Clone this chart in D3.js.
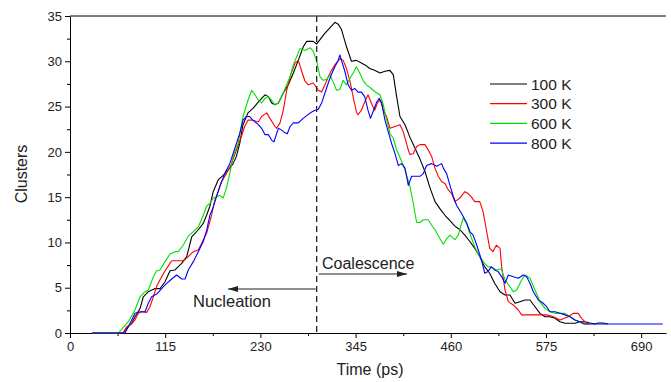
<!DOCTYPE html>
<html>
<head>
<meta charset="utf-8">
<script src="https://cdnjs.cloudflare.com/ajax/libs/d3/7.8.5/d3.min.js"></script>
<style>
  body { margin: 0; background: #fff; }
  text { font-family: "Liberation Sans", Arial, sans-serif; }
</style>
</head>
<body>
<div id="chart"></div>
<script>
// data: [time (ps), clusters]
const k100 = [[27,0],[64,0],[70.5,0.7],[74.5,1.07],[78.5,1.8],[84.6,2.7],[88.6,4.0],[94.6,4.56],[102.7,4.9],[108.7,4.9],[114.8,5.66],[120.8,6.88],[126.8,6.96],[134.9,7.69],[141,8.43],[147,10.6],[155,11.4],[161,12.1],[165,13.0],[169,14.0],[173,15.6],[179,16.9],[185,17.4],[193,18.2],[197,18.7],[201,19.5],[205,20.9],[209,23.0],[215,24.3],[221,24.8],[229.5,25.7],[235.6,26.3],[239.6,26.1],[243.6,25.4],[247.6,25.2],[251.7,25.4],[257.7,26.5],[263.7,27.4],[269.8,28.7],[275.8,30.1],[281.8,31.6],[285.9,32.2],[293.9,32.2],[297.9,31.9],[302,32.4],[308,33.1],[314,33.7],[320,34.3],[324,34.1],[328,33.5],[334,31.6],[340,30.0],[346,30.1],[352,29.8],[358,29.5],[362,29.2],[368,29.0],[374.5,28.7],[380.5,28.9],[386.5,29.0],[390.6,28.5],[394.6,26.1],[398.6,23.9],[404.7,23.0],[410.7,21.6],[416.8,20.4],[422.8,19.2],[428.9,17.8],[435,16.0],[441,14.5],[447,13.7],[453,13.0],[459,12.4],[465,11.8],[471,11.4],[477,10.8],[483,10.1],[489,9.35],[495,8.43],[501,7.3],[507,6.6],[513,5.5],[519.5,4.56],[525.5,4.2],[531.5,4.2],[537.6,3.28],[543.6,3.46],[549.6,3.64],[555.7,3.64],[561.7,2.9],[567.8,2.17],[573.8,1.8],[579.8,1.8],[585.9,1.62],[591.9,1.25],[598,1.07],[604,1.07],[610,1.07],[616,1.25],[622,1.25],[628,1.1],[634,1.0],[638,1.1],[644,1.1],[650,1.0]];

const k300 = [[27,0],[64,0],[68.5,0.7],[74.5,1.0],[78.5,1.44],[82.5,2.17],[86.6,2.35],[92.6,2.28],[96.6,2.9],[100.7,4.0],[104.7,5.15],[110.7,6.2],[116.8,7.14],[122.8,7.98],[128.8,7.98],[136.9,7.98],[142.9,8.43],[149,8.98],[155,9.16],[161,10.27],[165,11.0],[171,13.0],[175,14.7],[179,15.6],[183,16.7],[189,17.6],[195,18.7],[201,20.2],[207,21.7],[211,22.8],[215,23.5],[221,23.5],[227.5,23.3],[231.5,23.9],[237.6,24.3],[241.6,23.7],[247.6,22.8],[249.6,22.6],[253.7,23.2],[257.7,24.6],[261.8,26.8],[265.8,28.3],[271.8,29.8],[275.8,30.1],[279.9,28.9],[283.9,27.8],[287.9,27.4],[293.9,27.6],[299.9,26.8],[304,26.6],[308,27.4],[312,28.3],[316,29.0],[320,29.6],[326,30.3],[330,30.1],[334,29.2],[338,27.9],[342,26.1],[346,24.4],[348,24.1],[352,24.6],[356,25.5],[360,26.3],[364,25.4],[368,24.6],[372,25.5],[375,25.7],[378.5,24.6],[382.5,23.9],[386.6,22.6],[392.6,22.8],[398.6,23.0],[402.7,22.2],[408.7,20.2],[410.7,19.7],[414.7,19.8],[418.8,20.6],[422.8,20.8],[428.9,20.8],[432.8,20.2],[436.9,19.5],[440.9,18.2],[444.9,17.3],[449,16.7],[453,16.5],[457,15.8],[461,15.4],[465,14.5],[471,14.9],[477,15.6],[481,15.4],[485,15.0],[489,14.5],[495,14.5],[499,13.4],[503,11.4],[507,9.35],[511,9.0],[515,9.7],[519.5,9.35],[521.5,7.3],[525.5,4.75],[529.5,3.46],[535.5,3.1],[541.5,2.54],[545.6,2.0],[551.7,2.0],[563.8,2.0],[575.8,2.0],[583.9,1.8],[591.9,1.44],[602,1.8],[608,2.17],[614,2.17],[618,1.62],[622,1.25],[626,1.0]];

const k600 = [[27,0],[58.4,0],[70.5,1.25],[78.5,2.54],[84.6,4.0],[90.6,4.56],[94.6,4.75],[100.7,6.2],[104.7,6.88],[108.7,6.96],[114.8,7.88],[120.8,8.72],[126.8,8.98],[130.8,8.98],[136.9,9.72],[142.9,10.7],[149,11.2],[155,11.7],[161,13.0],[165,14.0],[169,14.3],[173,14.9],[177,15.05],[181,15.2],[185,14.9],[189,16.0],[193,17.6],[197,19.5],[203,20.9],[209,23.9],[215,25.7],[219.5,26.8],[223.5,26.3],[227.5,25.7],[231.5,25.4],[235.6,25.9],[239.6,26.1],[243.6,25.7],[247.6,25.2],[251.7,25.4],[255.7,26.1],[261.8,27.4],[265.8,28.3],[269.8,29.6],[273.8,30.5],[277.8,31.4],[283.9,31.2],[290,31.5],[293.9,31.1],[298,30.0],[302,28.3],[306,27.9],[310,28.0],[314,28.5],[318,27.7],[322,26.8],[326,26.9],[330,27.9],[334,27.4],[338,28.1],[342,28.7],[346,29.4],[350,28.7],[354,27.9],[358,27.4],[364,27.0],[370.5,26.5],[374.5,26.3],[378.5,25.2],[382.5,23.5],[386.6,22.0],[390.6,21.5],[394.6,20.2],[398.6,19.4],[402.7,18.5],[406.7,17.4],[410.7,16.2],[414.7,14.3],[418.8,12.2],[422.8,12.2],[426.8,12.5],[432.8,12.5],[436.9,11.9],[440.9,11.4],[447,10.4],[451,9.8],[455,10.4],[459,10.8],[465,10.3],[469,10.8],[475,12.7],[479,12.1],[483,11.0],[489,9.5],[495,8.4],[501,7.7],[505,7.3],[509,7.3],[515,6.96],[521,7.1],[525.5,5.85],[531.5,5.1],[535.5,4.56],[539.6,4.75],[545.6,5.85],[549.6,6.4],[555.7,6.04],[561.7,4.75],[567.8,3.46],[573.8,2.72],[579.8,2.35],[585.9,2.17],[592,2.17],[598,2.17],[604,1.8],[610,1.44],[616,1.25],[620,1.0],[628,1.0]];

const k800 = [[27,0],[66.4,0],[70.5,0.7],[74.5,1.44],[78.5,2.17],[84.6,2.35],[90.6,2.35],[94.6,3.28],[98.6,4.0],[104.7,4.3],[110.7,4.9],[116.8,5.48],[122.8,5.96],[128.8,6.4],[134.9,5.96],[139,5.96],[142.9,6.96],[149,7.88],[155,8.98],[161,10.1],[165,11.3],[169,13.0],[173,13.9],[177,15.05],[181,16.2],[187,17.6],[193,18.7],[197,19.8],[201,20.9],[205,22.0],[209,23.5],[213,23.9],[217,23.9],[221,23.5],[227.5,23.0],[231.5,22.6],[235.6,21.9],[239.6,21.9],[243.6,21.3],[246.4,21.1],[249.6,22.0],[251.7,22.6],[255.7,22.4],[259.7,22.1],[262.5,22.0],[265.8,22.8],[269.8,23.2],[275.8,23.2],[281.8,23.7],[285.9,24.0],[292,24.4],[296,24.6],[300,24.7],[304,25.4],[308,26.5],[312,27.6],[316,28.6],[320,29.4],[324,30.1],[326,30.7],[328,30.1],[332,28.9],[336,27.4],[340,26.8],[344,27.0],[348,26.6],[352,26.6],[356,26.1],[360,24.6],[363,23.7],[366,24.4],[370.5,25.5],[373.6,25.9],[376.5,25.4],[380.5,23.5],[384.5,22.2],[388.6,20.9],[392.6,19.8],[396.6,18.5],[400.7,18.7],[404.7,18.2],[408.7,16.3],[412.7,17.3],[416.8,17.3],[422.8,17.3],[426.8,17.6],[430.8,18.5],[436.9,18.7],[443,18.4],[449,18.7],[451,18.2],[455,17.6],[459,16.3],[463,15.1],[467,14.1],[473,13.2],[479,12.2],[483,11.2],[487,10.8],[491,9.8],[497,8.1],[501,6.6],[505,6.8],[509,7.3],[513,6.96],[517,6.8],[521.5,6.2],[525.5,5.5],[529.5,6.4],[535.5,6.2],[541.5,6.04],[547.6,6.4],[551.7,6.2],[555.7,5.5],[559.7,4.56],[565.8,3.64],[571.8,3.28],[575.8,2.9],[579.8,2.35],[585.9,2.35],[592,2.17],[598,2.0],[604,1.8],[610,1.44],[616,1.25],[622,1.0],[716,1.0]];

const seriesNames = ["100 K", "300 K", "600 K", "800 K"];
const seriesColors = ["#000000", "#ff0000", "#00e000", "#0000ff"];
const seriesData = [k100, k300, k600, k800];

const xTicks = [0, 115, 230, 345, 460, 575, 690];
const yTicks = [0, 5, 10, 15, 20, 25, 30, 35];
const splitTime = 298; // dashed line between nucleation and coalescence

const W = 671, H = 382;

const svg = d3.select("#chart")
  .append("svg")
    .attr("width", W)
    .attr("height", H);

const x = d3.scaleLinear().domain([0, 720]).range([70, 666]);
const y = d3.scaleLinear().domain([0, 35]).range([333, 16]);

// top frame line
svg.append("line")
  .attr("x1", x(0)).attr("x2", x(720))
  .attr("y1", y(35)).attr("y2", y(35))
  .attr("stroke", "#000").attr("stroke-width", 1);

// minor ticks
svg.append("g")
  .attr("transform", "translate(0," + y(0) + ")")
  .call(d3.axisBottom(x).tickValues(xTicks.map(d => d + 57.5).filter(d => d < 720)).tickSize(3).tickFormat(""))
  .call(g => g.select(".domain").remove());
svg.append("g")
  .attr("transform", "translate(" + x(0) + ",0)")
  .call(d3.axisLeft(y).tickValues(yTicks.slice(0, -1).map(d => d + 2.5)).tickSize(3).tickFormat(""))
  .call(g => g.select(".domain").remove());

// x axis
svg.append("g")
  .attr("transform", "translate(0," + y(0) + ")")
  .call(d3.axisBottom(x).tickValues(xTicks).tickSize(5).tickSizeOuter(0).tickPadding(4))
  .call(g => g.selectAll("text").attr("font-size", 13).attr("font-family", "Liberation Sans, Arial, sans-serif").attr("fill", "#222"));

// y axis
svg.append("g")
  .attr("transform", "translate(" + x(0) + ",0)")
  .call(d3.axisLeft(y).tickValues(yTicks).tickSize(5).tickSizeOuter(0).tickPadding(3))
  .call(g => g.selectAll("text").attr("font-size", 13).attr("font-family", "Liberation Sans, Arial, sans-serif").attr("fill", "#222"));

// axis titles
svg.append("text")
  .attr("x", 370).attr("y", 375)
  .attr("text-anchor", "middle")
  .attr("font-size", 16)
  .attr("fill", "#222")
  .text("Time (ps)");

svg.append("text")
  .attr("transform", "translate(27," + 174 + ") rotate(-90)")
  .attr("text-anchor", "middle")
  .attr("font-size", 16)
  .attr("fill", "#222")
  .text("Clusters");

// the curves
const line = d3.line()
  .x(d => x(d[0]))
  .y(d => y(d[1]));

svg.selectAll(".series")
  .data(seriesData)
  .enter().append("path")
  .attr("class", "series")
  .attr("d", line)
  .attr("fill", "none")
  .attr("stroke", (d, i) => seriesColors[i])
  .attr("stroke-width", 1.1)
  .attr("stroke-linejoin", "round");

// dashed divider
svg.append("line")
  .attr("x1", x(splitTime)).attr("x2", x(splitTime))
  .attr("y1", y(35)).attr("y2", y(0))
  .attr("stroke", "#222")
  .attr("stroke-width", 1.3)
  .attr("stroke-dasharray", "6,4");

// arrows
const defs = svg.append("defs");
defs.append("marker")
  .attr("id", "arrow")
  .attr("viewBox", "0 0 10 6")
  .attr("refX", 10).attr("refY", 3)
  .attr("markerWidth", 10).attr("markerHeight", 6)
  .attr("markerUnits", "userSpaceOnUse")
  .attr("orient", "auto")
  .append("path")
  .attr("d", "M0,0 L10,3 L0,6 Z")
  .attr("fill", "#222");

svg.append("line")
  .attr("x1", x(splitTime) - 1).attr("x2", 228)
  .attr("y1", 289).attr("y2", 289)
  .attr("stroke", "#222").attr("stroke-width", 1.2)
  .attr("marker-end", "url(#arrow)");

svg.append("line")
  .attr("x1", x(splitTime) + 2).attr("x2", 407)
  .attr("y1", 274).attr("y2", 274)
  .attr("stroke", "#222").attr("stroke-width", 1.2)
  .attr("marker-end", "url(#arrow)");

svg.append("text")
  .attr("x", 193).attr("y", 307)
  .attr("font-size", 16.5)
  .attr("fill", "#222")
  .text("Nucleation");

svg.append("text")
  .attr("x", 322).attr("y", 269)
  .attr("font-size", 16)
  .attr("fill", "#222")
  .text("Coalescence");

// legend
const legend = svg.selectAll(".legend")
  .data(seriesNames)
  .enter().append("g")
  .attr("class", "legend")
  .attr("transform", (d, i) => "translate(490," + (84 + i * 19.7) + ")");

legend.append("line")
  .attr("x1", 0).attr("x2", 37)
  .attr("stroke", (d, i) => seriesColors[i])
  .attr("stroke-width", 1.2);

legend.append("text")
  .attr("x", 41).attr("y", 5.5)
  .attr("font-size", 15.5)
  .attr("fill", "#222")
  .text(d => d);
</script>
</body>
</html>
